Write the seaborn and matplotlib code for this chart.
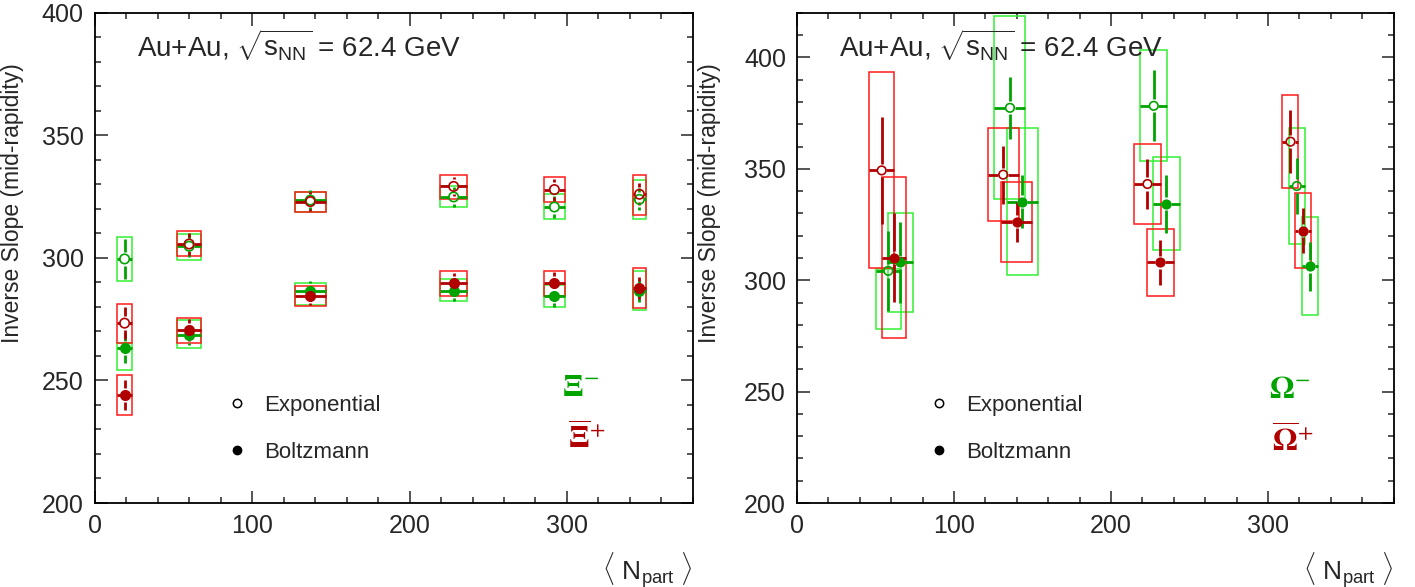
import numpy as np
import pandas as pd
import matplotlib
matplotlib.use("Agg")
import matplotlib.pyplot as plt
import seaborn as sns
from matplotlib.patches import Rectangle
from matplotlib.lines import Line2D
from matplotlib.ticker import MultipleLocator

# ---------------- Xi panel (left) ---------------- #
xi_npart = [19, 60, 137, 228, 292, 346]
xi_npart_err = [4.7, 7.7, 10, 8.5, 6.5, 4]

# Xi- exponential (open, green)
xi_m_exp = [299.6, 304.8, 323.6, 324.9, 320.8, 323.9]
xi_m_exp_stat = [8, 4.5, 4, 4, 4.5, 4.5]
xi_m_exp_sys_dn = [9.1, 5.5, 4.9, 4.1, 5.1, 8]
xi_m_exp_sys_up = [9.1, 5, 3.4, 4.5, 5.1, 8]
# anti-Xi+ exponential (open, red)
xi_p_exp = [273.4, 305.7, 323, 329.2, 327.9, 326]
xi_p_exp_stat = [6.6, 4.5, 4, 4, 4.5, 4.5]
xi_p_exp_sys_dn = [8, 5, 4.3, 5.3, 5.1, 8.4]
xi_p_exp_sys_up = [8, 5.3, 3.9, 4.8, 5.1, 8]
# Xi- Boltzmann (filled, green)
xi_m_boltz = [263.2, 268.4, 286.6, 286.6, 284.6, 286.6]
xi_m_boltz_stat = [6, 4, 4, 4, 4.5, 4.5]
xi_m_boltz_sys_dn = [9, 5.2, 5.9, 4.1, 4.8, 8]
xi_m_boltz_sys_up = [2.2, 6.1, 3, 5, 4.5, 8]
# anti-Xi+ Boltzmann (filled, red)
xi_p_boltz = [244.1, 270.5, 284.6, 289.8, 289.6, 287.7]
xi_p_boltz_stat = [6, 4.5, 4, 4, 4.5, 4.5]
xi_p_boltz_sys_dn = [8.1, 5.3, 4.1, 5.5, 5.3, 8.3]
xi_p_boltz_sys_up = [8.2, 5, 4.1, 4.7, 4.9, 8.1]

# ---------------- Omega panel (right) ---------------- #
om_npart_err = [7.8, 9.9, 8.6, 5.1]

om_m_exp_x = [58.1, 135.6, 227.2, 318.3]
om_m_exp = [304.2, 377.4, 378.3, 342.3]
om_m_exp_stat = [18, 14, 16, 12.5]
om_m_exp_sys_dn = [26, 41, 25, 26]
om_m_exp_sys_up = [1, 41, 25, 26]

om_p_exp_x = [53.9, 131.3, 223.2, 314.3]
om_p_exp = [349.3, 347.4, 343.2, 362.2]
om_p_exp_stat = [24, 13, 11, 14]
om_p_exp_sys_dn = [44, 21, 18, 21]
om_p_exp_sys_up = [44, 21, 18, 21]

om_m_boltz_x = [65.8, 143.4, 235.1, 326.6]
om_m_boltz = [308, 335.3, 334.4, 306.3]
om_m_boltz_stat = [18, 12, 13, 11]
om_m_boltz_sys_dn = [22.3, 33, 21, 22]
om_m_boltz_sys_up = [22.3, 33, 21, 22]

om_p_boltz_x = [61.9, 139.8, 231.3, 322.3]
om_p_boltz = [310.2, 326.3, 308, 322.3]
om_p_boltz_stat = [20, 9, 10, 10]
om_p_boltz_sys_dn = [36, 18, 15, 17]
om_p_boltz_sys_up = [36, 18, 15, 17]

# colores
GREEN = "#00a300"
GREEN_BOX = "#33f033"
RED = "#b00000"
RED_BOX = "#ff1a1a"
GAP = 3.0  # hueco de las barras alrededor del marcador

sns.set_style("ticks")
plt.rcParams["font.family"] = ["Liberation Sans", "DejaVu Sans"]
plt.rcParams["mathtext.fontset"] = "custom"
plt.rcParams["mathtext.rm"] = "Liberation Sans"
plt.rcParams["mathtext.it"] = "Liberation Sans"
plt.rcParams["mathtext.bf"] = "Liberation Sans:bold"


def draw_series(ax, x, xerr, y, stat, sys_dn, sys_up, col, box_col, filled, s):
    df = pd.DataFrame({"x": x, "xerr": xerr, "y": y, "stat": stat,
                       "dn": sys_dn, "up": sys_up})
    # cajas de sistemáticos
    for _, r in df.iterrows():
        ax.add_patch(Rectangle((r.x - r.xerr, r.y - r.dn), 2 * r.xerr, r.dn + r.up,
                               fill=False, ec=box_col, lw=1.1, zorder=2))
    # barras estadísticas con hueco
    v = df[df.stat > GAP]
    ax.vlines(v.x, v.y + GAP, v.y + v.stat, color=col, lw=2, zorder=3)
    ax.vlines(v.x, v.y - v.stat, v.y - GAP, color=col, lw=2, zorder=3)
    h = df[df.xerr > GAP]
    ax.hlines(h.y, h.x + GAP, h.x + h.xerr, color=col, lw=2, zorder=3)
    ax.hlines(h.y, h.x - h.xerr, h.x - GAP, color=col, lw=2, zorder=3)
    sns.scatterplot(data=df, x="x", y="y", ax=ax, marker="o", s=s, color=col,
                    facecolor=col if filled else "none", edgecolor=col,
                    linewidth=1.2, zorder=4, legend=False)


def style_axes(ax, ylim, label_y):
    ax.set_xlim(0, 380)
    ax.set_ylim(*ylim)
    ax.xaxis.set_major_locator(MultipleLocator(100))
    ax.xaxis.set_minor_locator(MultipleLocator(20))
    ax.yaxis.set_major_locator(MultipleLocator(50))
    ax.yaxis.set_minor_locator(MultipleLocator(10))
    ax.tick_params(which="both", direction="in", top=True, right=True,
                   width=1.1, labelsize=18, pad=8)
    ax.tick_params(which="major", length=9)
    ax.tick_params(which="minor", length=4.5)
    for sp in ax.spines.values():
        sp.set_visible(True)
        sp.set_linewidth(1.3)
        sp.set_color("black")
    ax.set_ylabel("Inverse Slope (mid-rapidity)", fontsize=16.5)
    ax.yaxis.set_label_coords(label_y, 0.612)
    ax.set_xlabel("")
    ax.text(1.0, -0.095, r"$\langle$ N$_{\mathrm{part}}$ $\rangle$", transform=ax.transAxes,
            fontsize=19, ha="right", va="top")
    ax.text(0.071, 0.935, r"Au+Au, $\sqrt{\mathrm{s}_{\mathrm{NN}}}$ = 62.4 GeV",
            transform=ax.transAxes, fontsize=20, ha="left", va="center")
    handles = [Line2D([], [], marker="o", ls="", color="k", mfc="none", ms=6, mew=1.1),
               Line2D([], [], marker="o", ls="", color="k", ms=6)]
    ax.legend(handles, ["Exponential", "Boltzmann"], loc="center left",
              bbox_to_anchor=(0.19, 0.151), frameon=False, fontsize=16,
              handlelength=0.8, handletextpad=0.8, labelspacing=1.15)


fig = plt.figure(figsize=(14.15, 5.87), dpi=100)
ax1 = fig.add_axes([0.0669, 0.1431, 0.4228, 0.8349])
ax2 = fig.add_axes([0.5633, 0.1431, 0.4216, 0.8349])

# ---------------- panel izquierdo ---------------- #
draw_series(ax1, xi_npart, xi_npart_err, xi_m_exp, xi_m_exp_stat,
            xi_m_exp_sys_dn, xi_m_exp_sys_up, GREEN, GREEN_BOX, False, 46)
draw_series(ax1, xi_npart, xi_npart_err, xi_m_boltz, xi_m_boltz_stat,
            xi_m_boltz_sys_dn, xi_m_boltz_sys_up, GREEN, GREEN_BOX, True, 46)
draw_series(ax1, xi_npart, xi_npart_err, xi_p_exp, xi_p_exp_stat,
            xi_p_exp_sys_dn, xi_p_exp_sys_up, RED, RED_BOX, False, 46)
draw_series(ax1, xi_npart, xi_npart_err, xi_p_boltz, xi_p_boltz_stat,
            xi_p_boltz_sys_dn, xi_p_boltz_sys_up, RED, RED_BOX, True, 46)
style_axes(ax1, (200, 400), -0.118)
ax1.text(0.812, 0.235, r"$\mathbf{\Xi}^{-}$", transform=ax1.transAxes, color=GREEN,
         fontsize=23, ha="center", va="center", math_fontfamily="stix")
ax1.text(0.822, 0.13, r"$\overline{\mathbf{\Xi}}^{+}$", transform=ax1.transAxes, color=RED,
         fontsize=23, ha="center", va="center", math_fontfamily="stix")

# ---------------- panel derecho ---------------- #
draw_series(ax2, om_m_exp_x, om_npart_err, om_m_exp, om_m_exp_stat,
            om_m_exp_sys_dn, om_m_exp_sys_up, GREEN, GREEN_BOX, False, 38)
draw_series(ax2, om_m_boltz_x, om_npart_err, om_m_boltz, om_m_boltz_stat,
            om_m_boltz_sys_dn, om_m_boltz_sys_up, GREEN, GREEN_BOX, True, 38)
draw_series(ax2, om_p_exp_x, om_npart_err, om_p_exp, om_p_exp_stat,
            om_p_exp_sys_dn, om_p_exp_sys_up, RED, RED_BOX, False, 38)
draw_series(ax2, om_p_boltz_x, om_npart_err, om_p_boltz, om_p_boltz_stat,
            om_p_boltz_sys_dn, om_p_boltz_sys_up, RED, RED_BOX, True, 38)
style_axes(ax2, (200, 420), -0.127)
ax2.text(0.826, 0.23, r"$\mathbf{\Omega}^{-}$", transform=ax2.transAxes, color=GREEN,
         fontsize=23, ha="center", va="center", math_fontfamily="stix")
ax2.text(0.83, 0.124, r"$\overline{\mathbf{\Omega}}^{+}$", transform=ax2.transAxes, color=RED,
         fontsize=23, ha="center", va="center", math_fontfamily="stix")

fig.savefig("out.png", dpi=100)
